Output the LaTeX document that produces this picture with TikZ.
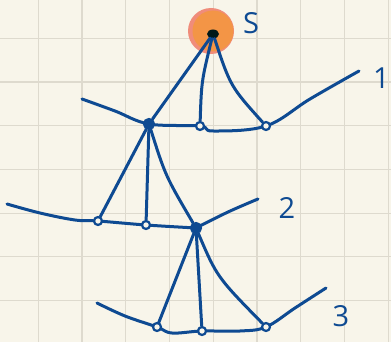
\documentclass[tikz,border=0pt]{standalone}
\usepackage{fontspec}
\newfontfamily\hand{Open Sans}
\usetikzlibrary{positioning, shapes.geometric, backgrounds}
\definecolor{paper}{RGB}{248,245,234}
\definecolor{gridline}{RGB}{222,218,206}
\definecolor{ink}{RGB}{14,74,146}
\definecolor{sun}{RGB}{243,149,70}
\definecolor{sunrim}{RGB}{240,140,122}

\begin{document}
\begin{tikzpicture}[
    x=1pt, y=-1pt,
    wire/.style={draw=ink, line width=3pt, line cap=round, line join=round},
    dot/.style={circle, draw=ink, line width=2.2pt, fill=paper, inner sep=0pt, minimum size=8pt},
    hub/.style={dot, fill=ink, minimum size=10pt},
    lbl/.style={font=\hand\fontsize{29}{29}\selectfont, text=ink, inner sep=0pt}
  ]

    % Paper and grid
    \useasboundingbox (0,0) rectangle (391,342);
    \begin{scope}[on background layer]
      \fill[paper] (0,0) rectangle (391,342);
      \foreach \i in {0,...,8}
        \draw[gridline, line width=1.2pt] ({38.3+43.75*\i},0) -- ({38.3+43.75*\i},342);
      \foreach \j in {0,...,6}
        \draw[gridline, line width=1.2pt] (0,{38.3+43.7*\j}) -- (391,{38.3+43.7*\j});
    \end{scope}

    % Source
    \node[circle, fill=sunrim, minimum size=46pt, inner sep=0pt] (rim) at (211,31) {};
    \node[circle, fill=sun, minimum size=41pt, inner sep=0pt] (sun) at (213,31) {};
    \node[ellipse, fill=black!80!teal, minimum width=12pt, minimum height=9pt, inner sep=0pt] (src) at (213,34) {};
    \node[lbl] (s) at (251,23) {S};

    % Level 1
    \node[hub] (a1) at (149,124) {};
    \node[dot] (b1) at (200,126) {};
    \node[dot] (c1) at (266,126) {};
    \node[lbl, anchor=east] (t1) at (390,78) {1};

    % Level 2
    \node[dot] (a2) at (98,221) {};
    \node[dot] (b2) at (146,225) {};
    \node[hub] (c2) at (196,228) {};
    \node[lbl] (t2) at (287,208) {2};

    % Level 3
    \node[dot] (a3) at (157,327) {};
    \node[dot] (b3) at (202,331) {};
    \node[dot] (c3) at (266,327) {};
    \node[lbl] (t3) at (341,316) {3};

    % Fronts
    \begin{scope}[on background layer]
      \draw[wire] plot[smooth, tension=0.6] coordinates {(82,99) (115,111) (a1) (b1) (213,131) (c1) (310,99) (359,71)};
      \draw[wire] plot[smooth, tension=0.6] coordinates {(7,204) (40,213) (75,220) (a2) (b2) (c2)};
      \draw[wire] plot[smooth, tension=0.6] coordinates {(c2) (228,212) (258,199)};
      \draw[wire] plot[smooth, tension=0.6] coordinates {(97,303) (125,316) (a3) (172,333) (b3) (240,331) (c3) (295,308) (326,288)};
    \end{scope}

    % Rays
    \draw[wire] (src) -- (a1);
    \draw[wire] (src) .. controls (201.5,81) .. (b1);
    \draw[wire] (src) .. controls (230.5,86.5) .. (c1);

    \draw[wire] (a1) -- (a2);
    \draw[wire] (a1) -- (b2);
    \draw[wire] (a1) .. controls (165.5,176) .. (c2);

    \draw[wire] (c2) -- (a3);
    \draw[wire] (c2) -- (b3);
    \draw[wire] (c2) .. controls (217,277) .. (c3);

\end{tikzpicture}
\end{document}
